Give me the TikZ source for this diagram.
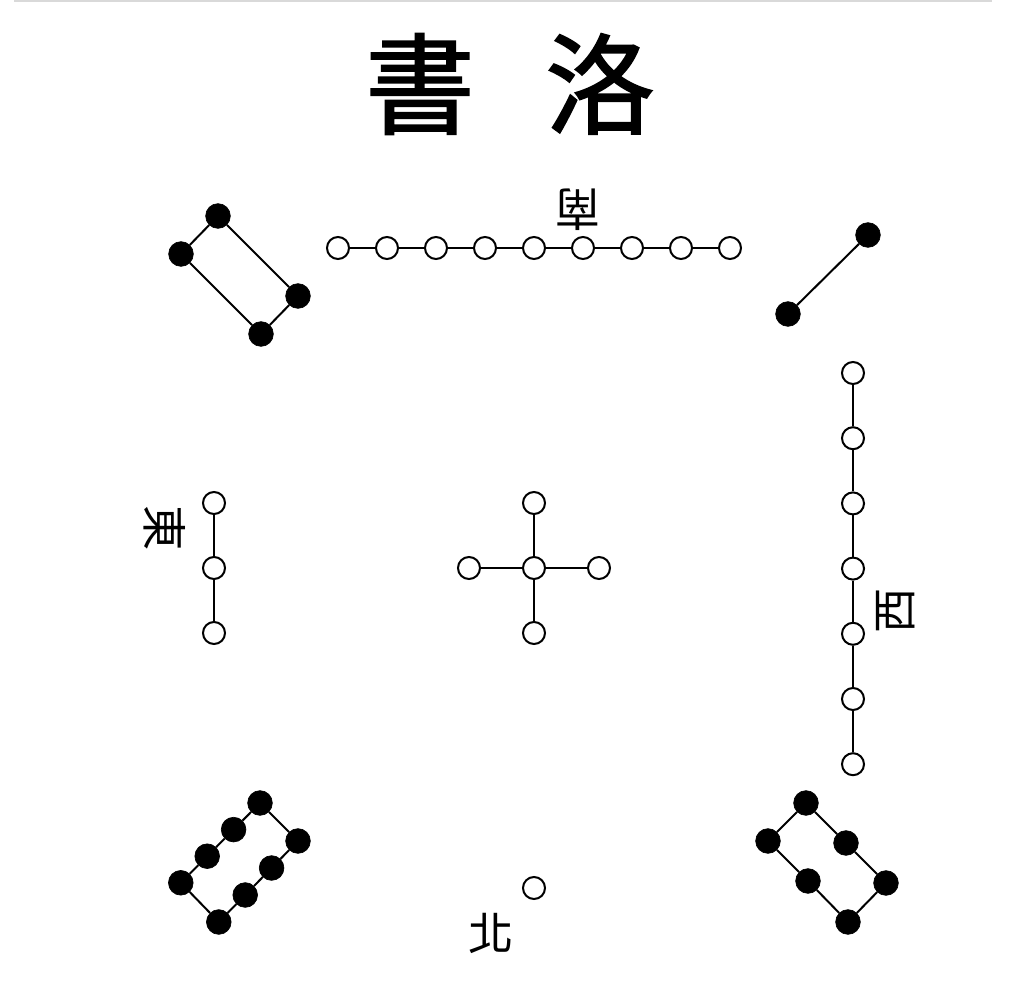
\documentclass[tikz,border=0pt]{standalone}
\usepackage{fontspec}
\newfontfamily\cjk{Noto Sans CJK TC}
\newfontfamily\cjktitle[FakeBold=1.6]{Noto Sans CJK TC}
\begin{document}
\begin{tikzpicture}[x=0.75pt,y=-0.75pt,
  wdot/.style={circle,draw=black,fill=white,line width=1.5pt,minimum size=16.5pt,inner sep=0pt},
  bdot/.style={circle,fill=black,draw=black,line width=0.5pt,minimum size=18.5pt,inner sep=0pt},
  link/.style={line width=1.5pt},
  title/.style={font=\cjktitle\fontsize{82}{82}\selectfont,inner sep=0pt},
  dirlabel/.style={font=\cjk\fontsize{34}{34}\selectfont,inner sep=0pt}]
\useasboundingbox (0,0) rectangle (1024,987);
\fill[white] (0,0) rectangle (1024,987);
\coordinate (tl) at (14,0.8);
\coordinate (tr) at (992,0.8);
\draw[black!15,line width=1.2pt] (tl) -- (tr);
% title
\node[title] (t1) at (420,84) {書};
\node[title] (t2) at (600,84) {洛};
% direction labels
\node[dirlabel,rotate=180] (south) at (578,210) {南};
\node[dirlabel,rotate=-90] (east) at (165,528) {東};
\node[dirlabel,rotate=90] (west) at (896,611) {西};
\node[dirlabel] (north) at (491,933) {北};
% south: 9 white
\foreach \i in {0,...,8} {
  \node[wdot] (s\i) at ({338+49*\i},248) {};
}
\foreach \i [count=\j] in {0,...,7} {
  \draw[link] (s\i) -- (s\j);
}
% center: 5 white
\node[wdot] (c0) at (534,568) {};
\node[wdot] (c1) at (534,503) {};
\node[wdot] (c2) at (599,568) {};
\node[wdot] (c3) at (534,633) {};
\node[wdot] (c4) at (469,568) {};
\foreach \k in {1,...,4} { \draw[link] (c0) -- (c\k); }
% east: 3 white
\node[wdot] (e0) at (214,503) {};
\node[wdot] (e1) at (214,568) {};
\node[wdot] (e2) at (214,633) {};
\draw[link] (e0) -- (e1) -- (e2);
% west: 7 white
\foreach \i in {0,...,6} {
  \node[wdot] (w\i) at (853,{373+65.2*\i}) {};
}
\foreach \i [count=\j] in {0,...,5} {
  \draw[link] (w\i) -- (w\j);
}
% north: 1 white
\node[wdot] (n0) at (534,888) {};
% top-left: 4 black
\node[bdot] (a0) at (218,216) {};
\node[bdot] (a1) at (181,254) {};
\node[bdot] (a2) at (298,296) {};
\node[bdot] (a3) at (261,334) {};
\draw[link] (a0) -- (a1) -- (a3) -- (a2) -- (a0);
% top-right: 2 black
\node[bdot] (b0) at (868,235) {};
\node[bdot] (b1) at (788,314) {};
\draw[link] (b0) -- (b1);
% bottom-left: 8 black
\foreach \i in {0,...,3} {
  \node[bdot] (p\i) at ({260-26.4*\i},{803+26.6*\i}) {};
  \node[bdot] (q\i) at ({298-26.4*\i},{841+27*\i}) {};
}
\draw[link] (p0) -- (p1) -- (p2) -- (p3) -- (q3) -- (q2) -- (q1) -- (q0) -- (p0);
% bottom-right: 6 black
\node[bdot] (r0) at (806,803) {};
\node[bdot] (r1) at (846,843) {};
\node[bdot] (r2) at (886,883) {};
\node[bdot] (r3) at (848,922) {};
\node[bdot] (r4) at (808,881) {};
\node[bdot] (r5) at (768,841) {};
\draw[link] (r0) -- (r1) -- (r2) -- (r3) -- (r4) -- (r5) -- (r0);
\end{tikzpicture}
\end{document}
